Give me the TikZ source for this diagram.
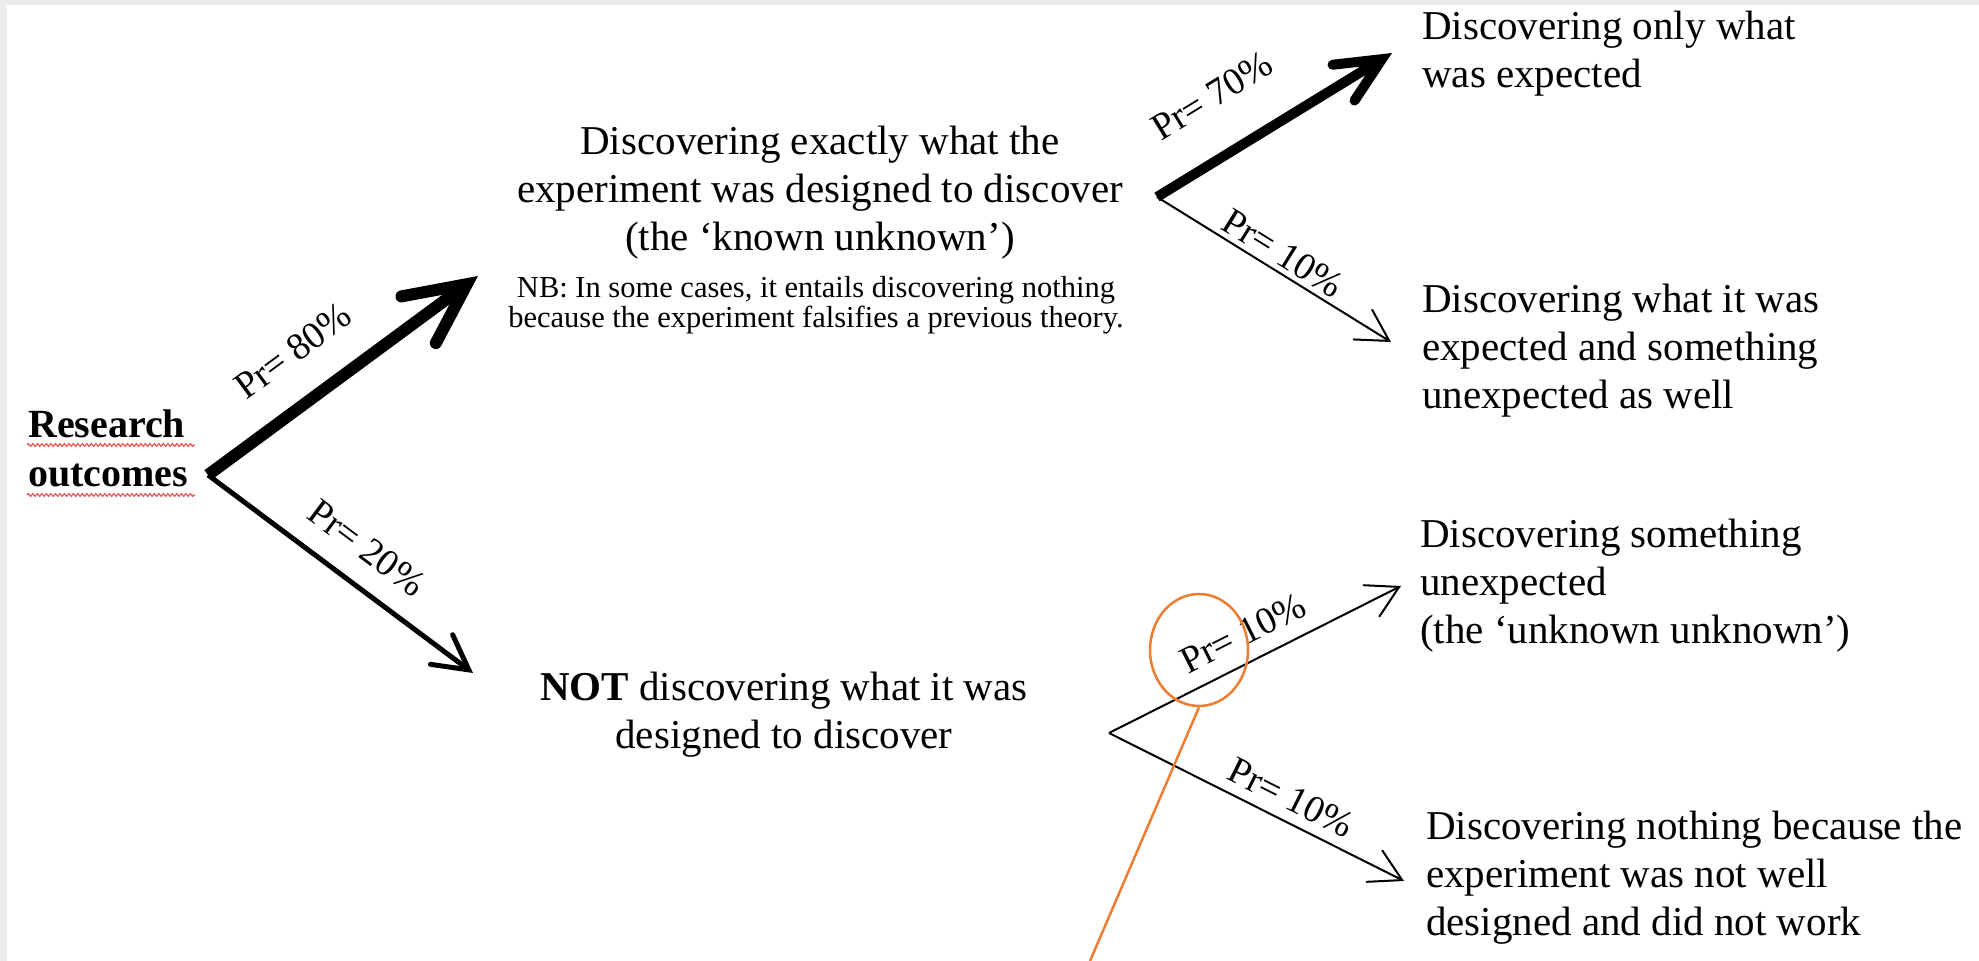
\documentclass[tikz,border=0pt]{standalone}
\usepackage{fontspec}
\setmainfont{Liberation Serif}
\usetikzlibrary{arrows.meta,decorations.pathmorphing,shapes.geometric}
\definecolor{bggray}{RGB}{235,235,235}
\definecolor{orangeline}{RGB}{237,125,49}
\definecolor{squigred}{RGB}{226,90,90}
\begin{document}
\begin{tikzpicture}[x=1pt,y=1pt,
  txt/.style={font=\fontsize{41}{48}\selectfont, inner sep=0pt, align=left, anchor=base west},
  ctxt/.style={font=\fontsize{41}{48}\selectfont, inner sep=0pt, align=center, anchor=base},
  rtxt/.style={font=\bfseries\fontsize{40}{49}\selectfont, inner sep=0pt, align=left, anchor=base west},
  nbtxt/.style={font=\fontsize{30.5}{30}\selectfont, inner sep=0pt, align=center, anchor=base},
  prob/.style={font=\fontsize{38}{40}\selectfont, inner sep=0pt},
  heavyarrow/.style={line width=12pt, -{Straight Barb[length=60pt,width=58pt,line cap=round,line join=miter]}},
  heavyarrowb/.style={line width=10pt, -{Straight Barb[length=45pt,width=42pt,line cap=round,line join=miter]}},
  midarrow/.style={line width=5pt, -{Straight Barb[length=34pt,width=37pt,line cap=round,line join=miter]}},
  thinarrow/.style={line width=2pt, -{Straight Barb[length=31pt,width=35pt,line cap=round,line join=miter]}},
  squig/.style={squigred, line width=1.3pt, decorate, decoration={snake, amplitude=1.3pt, segment length=4.5pt}},
  callout/.style={orangeline, line width=2.5pt}
]
\useasboundingbox (0,0) rectangle (1979,961);
\fill[white] (0,0) rectangle (1979,961);
\fill[bggray] (0,0) rectangle (7,961);
\fill[bggray] (0,956) rectangle (1979,961);

% texts (anchor = baseline of the last line)
\node[rtxt] (ro) at (28,474) {Research\\outcomes};
\node[ctxt] (known) at (820,710) {Discovering exactly what the\\experiment was designed to discover\\(the ‘known unknown’)};
\node[nbtxt] (nbnote) at (816,633) {NB: In some cases, it entails discovering nothing\\because the experiment falsifies a previous theory.};
\node[ctxt] (notd) at (784,212) {\textbf{NOT} discovering what it was\\designed to discover};
\node[txt] (onlyexp) at (1422,873) {Discovering only what\\was expected};
\node[txt] (alsounexp) at (1422,552) {Discovering what it was\\expected and something\\unexpected as well};
\node[txt] (unkunk) at (1420,317) {Discovering something\\unexpected\\(the ‘unknown unknown’)};
\node[txt] (nothing) at (1426,25) {Discovering nothing because the\\experiment was not well\\designed and did not work};

% spell-check underlines
\draw[squig] (27,516) -- (195,516);
\draw[squig] (27,466) -- (195,466);

% junctions and arrow ends
\coordinate (O) at (208,486);
\coordinate (t80) at (478,685);
\coordinate (t20) at (473,288);
\coordinate (J2) at (1157,764);
\coordinate (t70) at (1392,908);
\coordinate (t10a) at (1391,619);
\coordinate (J3) at (1109,228);
\coordinate (t10b) at (1401,375);
\coordinate (t10c) at (1404,80);

\draw[heavyarrow] (O) -- (t80);
\draw[midarrow] (O) -- (t20);
\draw[heavyarrowb] (J2) -- (t70);
\draw[thinarrow] (J2) -- (t10a);
\draw[thinarrow] (J3) -- (t10b);
\draw[thinarrow] (J3) -- (t10c);

% probability labels
\node[prob, rotate=36.4] (p80) at (293,610) {Pr= 80\%};
\node[prob, rotate=-36.8] (p20) at (367,413) {Pr= 20\%};
\node[prob, rotate=31.5] (p70) at (1212,865) {Pr= 70\%};
\node[prob, rotate=-31.8] (p10a) at (1283,708) {Pr= 10\%};
\node[prob, rotate=26.7] (p10b) at (1243,328) {Pr= 10\%};
\node[prob, rotate=-26.6] (p10c) at (1291,163) {Pr= 10\%};

% orange callout
\node[callout, draw, ellipse, minimum width=98pt, minimum height=112pt, inner sep=0pt] (circ) at (1199,311) {};
\coordinate (oend) at (1090,0);
\draw[callout] (circ.south) -- (oend);
\end{tikzpicture}
\end{document}
